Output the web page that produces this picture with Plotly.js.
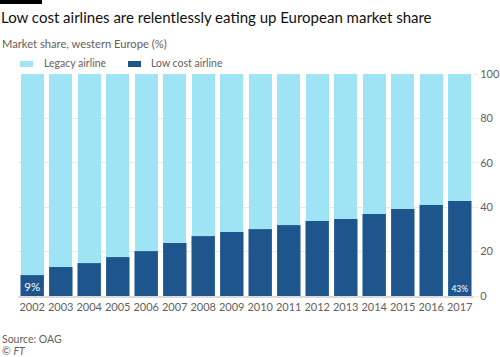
<!DOCTYPE html>
<html>
<head>
<meta charset="utf-8">
<script src="https://cdn.plot.ly/plotly-3.0.1.min.js"></script>
<style>html,body{margin:0;padding:0;background:#fff;}#chart{width:500px;height:357px;}</style>
</head>
<body>
<div id="chart"></div>
<script>
var years = ['2002','2003','2004','2005','2006','2007','2008','2009','2010','2011','2012','2013','2014','2015','2016','2017'];
var lowCost = [9.4, 13.2, 14.7, 17.4, 20.1, 24.1, 27.0, 28.9, 30.1, 31.9, 34.0, 34.8, 37.0, 39.2, 41.0, 42.9];
var legacy = lowCost.map(function(v){ return 100 - v; });
var labelYears = ['2002', '2017'];
var yTicks = [0, 20, 40, 60, 80, 100];

var darkBlue = '#1e558c';
var lightBlue = '#9ee4f4';
var grey = '#66605c';
var fontFam = 'Lato, "Open Sans", sans-serif';

var lowText = years.map(function(y, i){ return labelYears.indexOf(y) >= 0 ? Math.round(lowCost[i]) + '%' : ''; });

var traces = [
  {type:'bar', name:'Low cost airline', x:years, y:lowCost, marker:{color:darkBlue, line:{color:'#3a6fa3', width:0.6}},
   text: lowText, textposition:'inside', insidetextanchor:'start', textangle:0,
   textfont:{color:'#ffffff', size:11.5, family:fontFam}, hoverinfo:'x+y', showlegend:false},
  {type:'bar', name:'Legacy airline', x:years, y:legacy, marker:{color:lightBlue, line:{width:0}}, hoverinfo:'x+y', showlegend:false}
];

var L = 18, R = 474, T = 74, B = 296;
function px(x){ return (x - L) / (R - L); }
function py(y){ return (B - y) / (B - T); }

var layout = {
  width:500, height:357,
  margin:{l:L, r:500-R, t:T, b:357-B, pad:0},
  paper_bgcolor:'#ffffff', plot_bgcolor:'#ffffff',
  barmode:'stack', bargap:0.2,
  showlegend:false,
  font:{family:fontFam, color:grey},
  title:{text:'Low cost airlines are relentlessly eating up European market share',
    x:1/500, xref:'container', xanchor:'left', y:1-18/357, yref:'container', yanchor:'middle',
    font:{size:15, color:'#111111', family:fontFam}},
  xaxis:{type:'category', tickangle:0, tickfont:{size:11, color:grey, family:fontFam}, showgrid:false,
    showline:true, linecolor:'#dedad6', linewidth:1.5, ticks:'', fixedrange:true},
  yaxis:{side:'right', range:[0,100], tickvals:yTicks, ticktext:yTicks.map(String),
    showgrid:true, gridcolor:'#ebe8e5', gridwidth:1, zeroline:false, ticks:'outside', ticklen:3,
    tickcolor:'#ebe8e5', tickfont:{size:11, color:grey, family:fontFam}, fixedrange:true},
  shapes:[
    {type:'rect', xref:'paper', yref:'paper', x0:px(0), x1:px(42), y0:py(4), y1:py(0), fillcolor:'#000000', line:{width:0}},
    {type:'rect', xref:'paper', yref:'paper', x0:px(20), x1:px(33), y0:py(67), y1:py(61), fillcolor:lightBlue, line:{width:0}},
    {type:'rect', xref:'paper', yref:'paper', x0:px(128), x1:px(141), y0:py(67), y1:py(61), fillcolor:darkBlue, line:{width:0}}
  ],
  annotations:[
    {text:'Market share, western Europe (%)', xref:'paper', yref:'paper', x:px(0), y:py(43), xanchor:'left', yanchor:'middle', showarrow:false, font:{size:11.2, color:grey, family:fontFam}},
    {text:'Legacy airline', xref:'paper', yref:'paper', x:px(42), y:py(63.5), xanchor:'left', yanchor:'middle', showarrow:false, font:{size:10.5, color:grey, family:fontFam}},
    {text:'Low cost airline', xref:'paper', yref:'paper', x:px(149), y:py(63.5), xanchor:'left', yanchor:'middle', showarrow:false, font:{size:10.5, color:grey, family:fontFam}},
    {text:'Source: OAG', xref:'paper', yref:'paper', x:px(0), y:py(339), xanchor:'left', yanchor:'middle', showarrow:false, font:{size:10.5, color:grey, family:fontFam}},
    {text:'© <i>FT</i> ', xref:'paper', yref:'paper', x:px(0), y:py(351), xanchor:'left', yanchor:'middle', showarrow:false, font:{size:10.5, color:grey, family:fontFam}}
  ]
};

Plotly.newPlot('chart', traces, layout, {displayModeBar:false, staticPlot:true});
</script>
</body>
</html>
